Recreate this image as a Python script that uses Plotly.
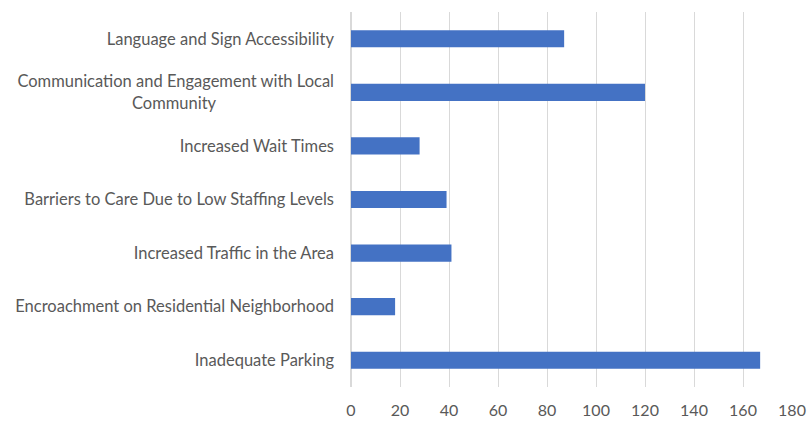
import plotly.graph_objects as go

categories = [
    "Inadequate Parking",
    "Encroachment on Residential Neighborhood",
    "Increased Traffic in the Area",
    "Barriers to Care Due to Low Staffing Levels",
    "Increased Wait Times",
    "Communication and Engagement with Local<br>Community" + "&nbsp;" * 28,
    "Language and Sign Accessibility",
]
values = [167, 18, 41, 39, 28, 120, 87]
x_ticks = [0, 20, 40, 60, 80, 100, 120, 140, 160, 180]

fig = go.Figure(go.Bar(
    x=values, y=categories, orientation="h",
    marker=dict(color="#4472C4", line=dict(width=0)),
    width=0.32,
))
fig.update_layout(
    width=808, height=422,
    margin=dict(l=351, r=16, t=12, b=35),
    paper_bgcolor="white", plot_bgcolor="white",
    font=dict(family="Lato", size=16.5, color="#595959"),
    showlegend=False,
)
fig.update_xaxes(
    range=[0, 180], tickvals=x_ticks, showgrid=True, gridcolor="#D9D9D9", gridwidth=1,
    zeroline=True, zerolinecolor="#D9D9D9", showline=False, ticks="", ticklen=0,
    tickfont=dict(size=16, color="#595959"), automargin=False, ticklabelstandoff=12,
)
fig.update_yaxes(
    showgrid=False, showline=False, ticks="", ticklen=0,
    tickfont=dict(size=16.5, color="#595959"), automargin=False, ticklabelstandoff=16,
    categoryorder="array", categoryarray=categories,
)
fig.write_html(
    "out.html",
    config={"displayModeBar": False},
    post_script="document.body.style.margin='0';document.body.style.overflow='hidden';",
)
